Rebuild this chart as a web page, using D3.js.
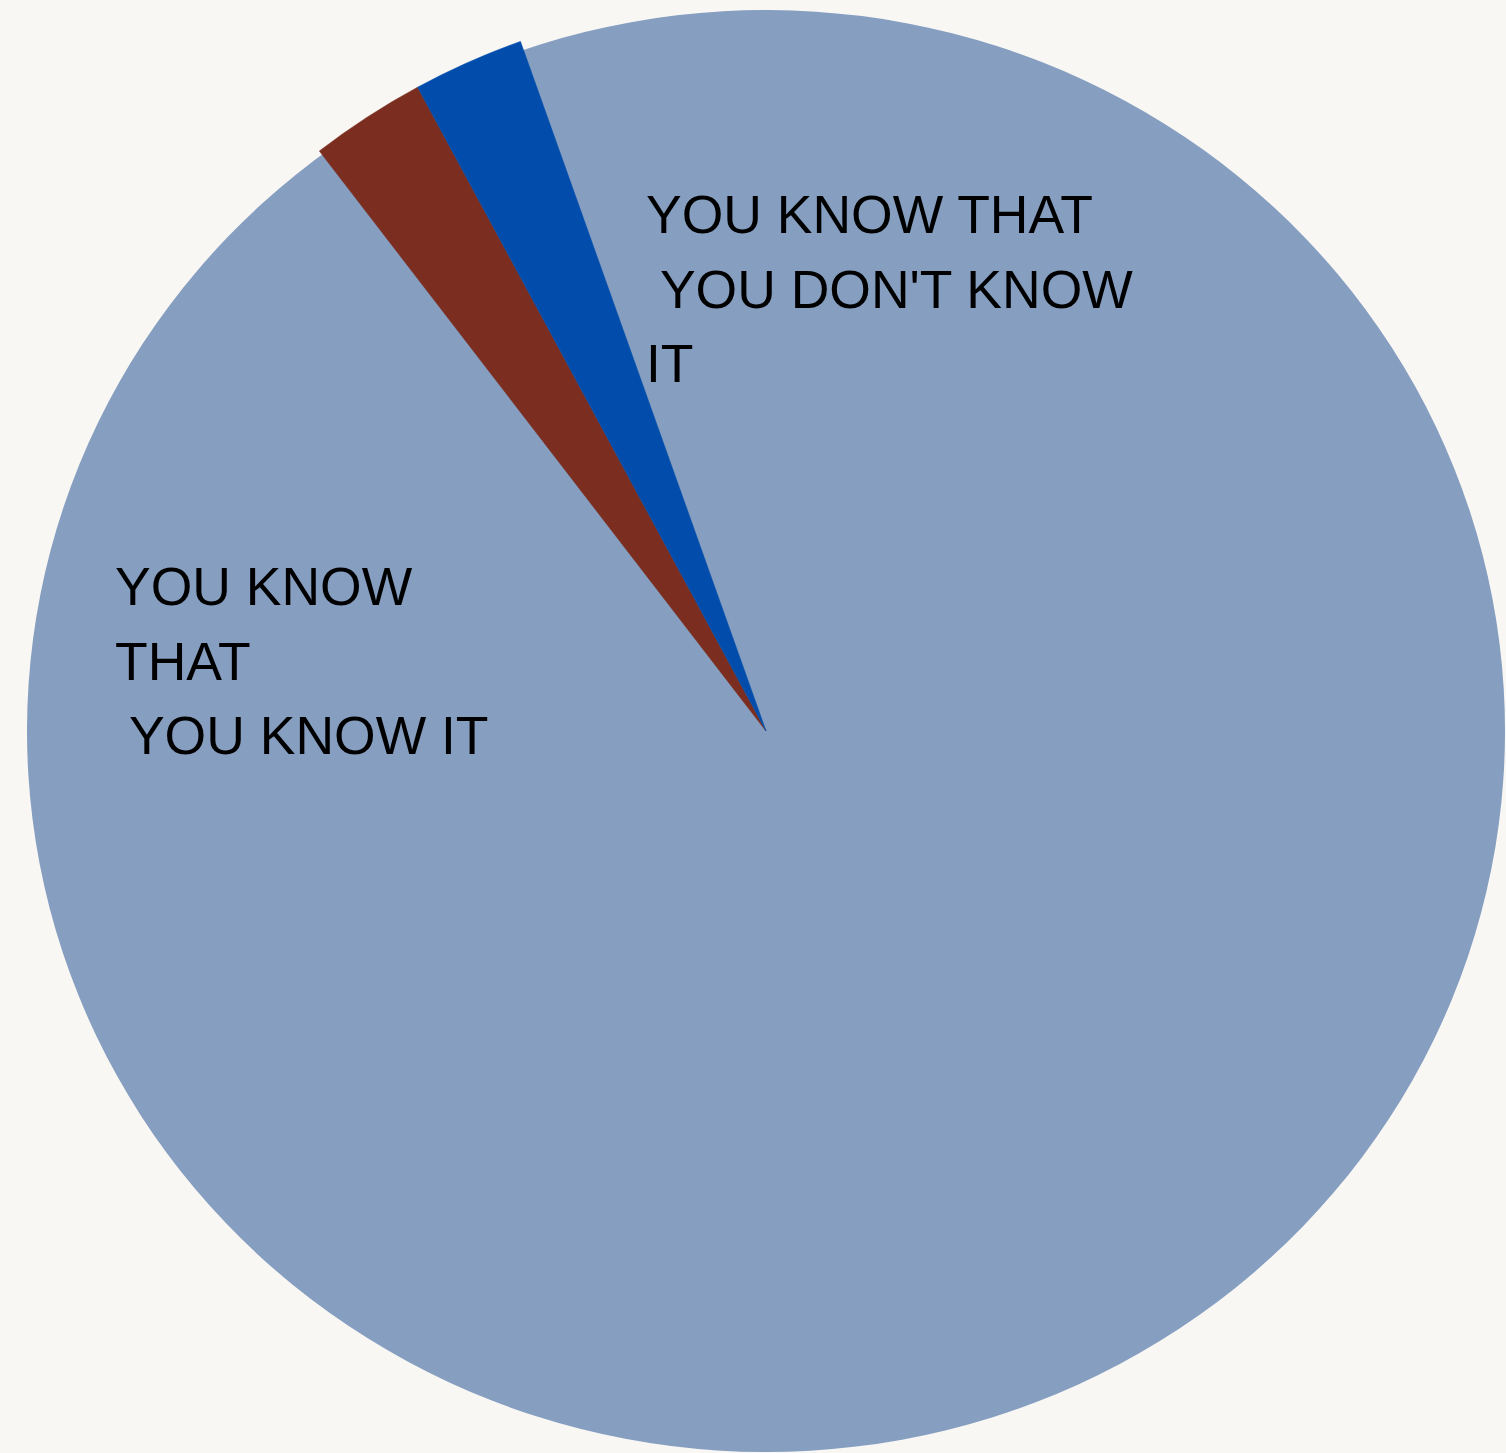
<!DOCTYPE html>
<html>
<head>
<meta charset="utf-8">
<script src="https://cdn.jsdelivr.net/npm/d3@7"></script>
<style>
  html, body { margin: 0; padding: 0; background: #F8F7F4; }
  svg { display: block; }
  text { white-space: pre; }
</style>
</head>
<body>
<svg id="chart" width="1506" height="1453"></svg>
<script>
// Data
const categories = ["You know that you know it", "You don't know that you don't know it", "You know that you don't know it"];
const values = [95, 2.55, 2.45];
const colors = ["#869EC0", "#7B2D1F", "#024DAB"];
const labelLines = [
  ["YOU KNOW", "THAT", " YOU KNOW IT"],
  [],
  ["YOU KNOW THAT", " YOU DON'T KNOW", "IT"]
];

const W = 1506, H = 1453;
const cx = 766, cy = 731;
const rx = 739, ry = 721;
const rSmall = 732;

const svg = d3.select("#chart");
svg.append("rect").attr("width", W).attr("height", H).attr("fill", "#F8F7F4");

const startDeg = -19.6;
const pie = d3.pie().sort(null).value(d => d)
  .startAngle(startDeg * Math.PI / 180)
  .endAngle((startDeg + 360) * Math.PI / 180);
const arcs = pie(values);

const g = svg.append("g").attr("transform", `translate(${cx},${cy})`);

arcs.forEach((a, i) => {
  if (i === 0) {
    // big slice is slightly elliptical; extend it under the thin slices to avoid seams
    const ext = { startAngle: a.startAngle - 0.03, endAngle: a.endAngle + 0.03 };
    g.append("path")
      .attr("transform", `scale(1, ${ry / rx})`)
      .attr("d", d3.arc().innerRadius(0).outerRadius(rx)(ext))
      .attr("fill", colors[i]);
  } else {
    g.append("path")
      .attr("d", d3.arc().innerRadius(0).outerRadius(rSmall)(a))
      .attr("fill", colors[i])
      .attr("stroke", colors[i])
      .attr("stroke-width", 0.6);
  }
});

// Labels
const labelPos = [[115, 605], null, [646, 233]];
const lineH = 74.5;
labelLines.forEach((lines, i) => {
  if (!labelPos[i]) return;
  const t = svg.append("text")
    .attr("x", labelPos[i][0]).attr("y", labelPos[i][1])
    .attr("font-family", "'Liberation Sans', Arial, Helvetica, sans-serif")
    .attr("font-size", 53.5).attr("fill", "#000");
  lines.forEach((ln, j) => {
    t.append("tspan").attr("x", labelPos[i][0]).attr("y", labelPos[i][1] + j * lineH).text(ln);
  });
});
</script>
</body>
</html>
